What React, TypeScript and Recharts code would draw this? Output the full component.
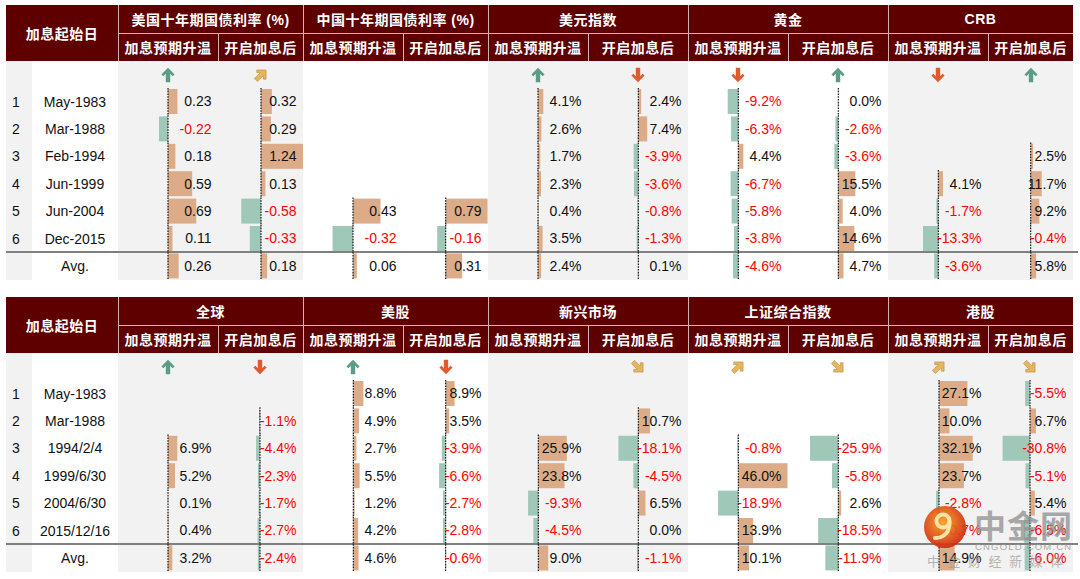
import React from "react";
import { BarChart, Bar, XAxis, YAxis } from "recharts";

// ---- data ----
const rowIds = ["1", "2", "3", "4", "5", "6", ""];
const topDates = ["May-1983", "Mar-1988", "Feb-1994", "Jun-1999", "Jun-2004", "Dec-2015", "Avg."];
const bottomDates = ["May-1983", "Mar-1988", "1994/2/4", "1999/6/30", "2004/6/30", "2015/12/16", "Avg."];
const topGroups = ["美国十年期国债利率 (%)", "中国十年期国债利率 (%)", "美元指数", "黄金", "CRB"];
const bottomGroups = ["全球", "美股", "新兴市场", "上证综合指数", "港股"];
const subHeads = ["加息预期升温", "开启加息后"];
const cornerHead = "加息起始日";

const usBondBefore = [0.23, -0.22, 0.18, 0.59, 0.69, 0.11, 0.26];
const usBondAfter = [0.32, 0.29, 1.24, 0.13, -0.58, -0.33, 0.18];
const cnBondBefore = [null, null, null, null, 0.43, -0.32, 0.06];
const cnBondAfter = [null, null, null, null, 0.79, -0.16, 0.31];
const dxyBefore = [4.1, 2.6, 1.7, 2.3, 0.4, 3.5, 2.4];
const dxyAfter = [2.4, 7.4, -3.9, -3.6, -0.8, -1.3, 0.1];
const goldBefore = [-9.2, -6.3, 4.4, -6.7, -5.8, -3.8, -4.6];
const goldAfter = [0.0, -2.6, -3.6, 15.5, 4.0, 14.6, 4.7];
const crbBefore = [null, null, null, 4.1, -1.7, -13.3, -3.6];
const crbAfter = [null, null, 2.5, 11.7, 9.2, -0.4, 5.8];

const globalBefore = [null, null, 6.9, 5.2, 0.1, 0.4, 3.2];
const globalAfter = [null, -1.1, -4.4, -2.3, -1.7, -2.7, -2.4];
const usStockBefore = [8.8, 4.9, 2.7, 5.5, 1.2, 4.2, 4.6];
const usStockAfter = [8.9, 3.5, -3.9, -6.6, -2.7, -2.8, -0.6];
const emBefore = [null, null, 25.9, 23.8, -9.3, -4.5, 9.0];
const emAfter = [null, 10.7, -18.1, -4.5, 6.5, 0.0, -1.1];
const shBefore = [null, null, -0.8, 46.0, -18.9, 13.9, 10.1];
const shAfter = [null, null, -25.9, -5.8, 2.6, -18.5, -11.9];
const hkBefore = [27.1, 10.0, 32.1, 23.7, -2.8, -0.7, 14.9];
const hkAfter = [-5.5, 6.7, -30.8, -5.1, 5.4, -6.5, -6.0];

const topArrows = ["up", "upRight", null, null, "up", "down", "down", "up", "down", "up"];
const bottomArrows = ["up", "down", "up", "down", null, "downRight", "upRight", "downRight", "upRight", "downRight"];

// ---- layout ----
const FONT = '"Liberation Sans", Arial, "Noto Sans CJK SC", sans-serif';
const HEAD_BG = "#5E0000";
const HEAD_LINE = "#D2B2B2";
const GREY = "#F2F2F2";
const POS = "#DCAB88";
const NEG = "#A0C8B9";
const COL_EDGES = [118, 218, 303, 403, 488, 588, 688, 788, 888, 988, 1073];
const LEFT = 6;
const HEAD_H = 28;
const ARROW_H = 27;
const ROW_H = 27.4;
const BAR_H = 25;

const topZeros = [168, 261, 353, 445.7, 538, 638.3, 738.3, 838.3, 938.3, 1030.7];
const topScales = [41, 34, 64, 53, 1.3, 1.2, 1.15, 1.1, 1.15, 0.94];
const bottomZeros = [168, 260, 353.3, 445.7, 538.3, 638.3, 738.3, 838.3, 939, 1030];
const bottomScales = [1.35, 0.9, 1.15, 1.0, 1.1, 1.1, 1.07, 1.09, 1.05, 0.89];

const ARROW_COLORS: Record<string, string> = {
  up: "#5B9C86",
  down: "#DF5A2E",
  upRight: "#E5B560",
  downRight: "#E5B560",
};
const ARROW_ROT: Record<string, number> = { up: 0, down: 180, upRight: 45, downRight: 135 };

function Arrow({ kind, cx, cy }: { kind: string; cx: number; cy: number }) {
  const diag = kind === "upRight" || kind === "downRight";
  return (
    <svg
      width={18}
      height={18}
      style={{ position: "absolute", left: cx - 9, top: cy - 9, overflow: "visible" }}
    >
      <g transform={`translate(9,9) rotate(${ARROW_ROT[kind]}) scale(1.1)`}>
        <polygon
          points="0,-6.5 6,-0.5 4.2,1.2 2,-1.2 2,6.5 -2,6.5 -2,-1.2 -4.2,1.2 -6,-0.5"
          fill={ARROW_COLORS[kind]}
          stroke={diag ? "#C99440" : "none"}
          strokeWidth={0.6}
        />
      </g>
    </svg>
  );
}

function CellBars({
  values,
  left,
  right,
  zeroX,
  ppu,
  pct,
  top,
}: {
  values: (number | null)[];
  left: number;
  right: number;
  zeroX: number;
  ppu: number;
  pct: boolean;
  top: number;
}) {
  const w = right - left;
  const z = zeroX - left;
  const h = ROW_H * values.length;
  const data = values.map((v, i) => ({ k: "r" + i, v }));
  const fmt = (v: number) => (pct ? v.toFixed(1) + "%" : v.toFixed(2));
  const gap = (ROW_H - BAR_H) / 2;

  const shape = (p: any) => {
    const v = p.payload ? p.payload.v : null;
    if (v == null) return <g />;
    const x0 = v < 0 && p.width > 0 ? p.x + p.width : p.x;
    return (
      <g>
        <rect
          x={Math.min(p.x, p.x + p.width)}
          y={p.y}
          width={Math.abs(p.width)}
          height={p.height}
          fill={v >= 0 ? POS : NEG}
        />
        <line
          x1={x0}
          x2={x0}
          y1={p.y - gap}
          y2={p.y + p.height + gap}
          stroke="#000"
          strokeWidth={1.1}
          strokeDasharray="1.6 1.2"
        />
        <text
          x={w - 6.5}
          y={p.y + p.height / 2}
          textAnchor="end"
          dominantBaseline="central"
          fontFamily={FONT}
          fontSize={14}
          fill={v < 0 ? "#FF0000" : "#111"}
        >
          {fmt(v)}
        </text>
      </g>
    );
  };

  return (
    <div style={{ position: "absolute", left, top, width: w, height: h }}>
      <BarChart
        layout="vertical"
        width={w}
        height={h}
        data={data}
        margin={{ top: 0, right: 0, bottom: 0, left: 0 }}
        barSize={BAR_H}
      >
        <XAxis type="number" hide domain={[-z / ppu, (w - z) / ppu]} allowDataOverflow />
        <YAxis type="category" dataKey="k" hide />
        <Bar dataKey="v" isAnimationActive={false} shape={shape} />
      </BarChart>
    </div>
  );
}

function Table({
  top,
  groups,
  dates,
  series,
  zeros,
  scales,
  pct,
  arrows,
}: {
  top: number;
  groups: string[];
  dates: string[];
  series: (number | null)[][];
  zeros: number[];
  scales: number[];
  pct: boolean[];
  arrows: (string | null)[];
}) {
  const bodyTop = top + HEAD_H * 2;
  const rowsTop = bodyTop + ARROW_H;
  const bodyH = ARROW_H + ROW_H * dates.length;
  const right = COL_EDGES[COL_EDGES.length - 1];
  const headText: React.CSSProperties = {
    position: "absolute",
    display: "flex",
    alignItems: "center",
    justifyContent: "center",
    color: "#fff",
    fontFamily: FONT,
    fontSize: 14,
    fontWeight: 700,
    letterSpacing: 0.5,
    whiteSpace: "nowrap",
  };
  const cellText: React.CSSProperties = {
    position: "absolute",
    display: "flex",
    alignItems: "center",
    justifyContent: "center",
    color: "#111",
    fontFamily: FONT,
    fontSize: 14,
    height: ROW_H,
  };

  return (
    <>
      {/* body backgrounds */}
      <div style={{ position: "absolute", left: LEFT, top: bodyTop, width: 32 - LEFT, height: bodyH, background: GREY }} />
      {groups.map((g, i) =>
        i % 2 === 0 ? (
          <div
            key={"bg" + i}
            style={{
              position: "absolute",
              left: COL_EDGES[i * 2],
              top: bodyTop,
              width: COL_EDGES[i * 2 + 2] - COL_EDGES[i * 2],
              height: bodyH,
              background: GREY,
            }}
          />
        ) : null
      )}
      {/* header */}
      <div style={{ position: "absolute", left: LEFT, top, width: right - LEFT, height: HEAD_H * 2, background: HEAD_BG }} />
      <div style={{ ...headText, left: LEFT, top, width: COL_EDGES[0] - LEFT, height: HEAD_H * 2 }}>{cornerHead}</div>
      <div style={{ position: "absolute", left: COL_EDGES[0], top: top + HEAD_H, width: right - COL_EDGES[0], height: 1, background: HEAD_LINE }} />
      {COL_EDGES.slice(0, -1).map((x, i) => (
        <div
          key={"vl" + i}
          style={{
            position: "absolute",
            left: x,
            top: i % 2 === 0 ? top : top + HEAD_H,
            width: 1,
            height: i % 2 === 0 ? HEAD_H * 2 : HEAD_H,
            background: HEAD_LINE,
          }}
        />
      ))}
      {groups.map((g, i) => (
        <div
          key={"g" + i}
          style={{ ...headText, left: COL_EDGES[i * 2], top, width: COL_EDGES[i * 2 + 2] - COL_EDGES[i * 2], height: HEAD_H }}
        >
          {g}
        </div>
      ))}
      {COL_EDGES.slice(0, -1).map((x, i) => (
        <div
          key={"s" + i}
          style={{ ...headText, left: x, top: top + HEAD_H, width: COL_EDGES[i + 1] - x, height: HEAD_H }}
        >
          {subHeads[i % 2]}
        </div>
      ))}
      {/* row labels */}
      {dates.map((d, i) => (
        <React.Fragment key={"r" + i}>
          <div style={{ ...cellText, left: LEFT, width: 32 - LEFT - 6, top: rowsTop + i * ROW_H }}>{rowIds[i]}</div>
          <div style={{ ...cellText, left: 32, width: COL_EDGES[0] - 32, top: rowsTop + i * ROW_H }}>{d}</div>
        </React.Fragment>
      ))}
      {/* average separator */}
      <div
        style={{
          position: "absolute",
          left: LEFT,
          top: rowsTop + ROW_H * (dates.length - 1) - 1,
          width: 1078 - LEFT,
          height: 2,
          background: "#808080",
        }}
      />
      {/* bars */}
      {series.map((vals, i) => (
        <CellBars
          key={"c" + i}
          values={vals}
          left={COL_EDGES[i]}
          right={COL_EDGES[i + 1]}
          zeroX={zeros[i]}
          ppu={scales[i]}
          pct={pct[i]}
          top={rowsTop}
        />
      ))}
      {/* trend arrows */}
      {arrows.map((a, i) =>
        a ? <Arrow key={"a" + i} kind={a} cx={zeros[i]} cy={bodyTop + ARROW_H / 2 + 0.5} /> : null
      )}
    </>
  );
}

function Watermark() {
  return (
    <svg
      width={1080}
      height={579}
      style={{ position: "absolute", left: 0, top: 0, pointerEvents: "none" }}
    >
      <defs>
        <radialGradient id="wm" cx="45%" cy="40%" r="60%">
          <stop offset="0%" stopColor="#F7A21E" />
          <stop offset="100%" stopColor="#D3260F" />
        </radialGradient>
      </defs>
      <g opacity={0.92}>
        <circle cx={945} cy={527} r={21} fill="url(#wm)" />
        <circle cx={943} cy={521} r={6.5} fill="none" stroke="#FBE3A0" strokeWidth={4} />
        <path d="M949.5 522 C 950 532, 944 538, 935 538" fill="none" stroke="#FBE3A0" strokeWidth={4} strokeLinecap="round" />
      </g>
      <text x={974} y={538} fontFamily={FONT} fontSize={32} fontWeight={700} fill="#8E8E8E" opacity={0.75} letterSpacing={1}>
        中金网
      </text>
      <text x={975} y={550} fontFamily={FONT} fontSize={9.5} fill="#9A9A9A" opacity={0.8} letterSpacing={1.2}>
        CNGOLD.COM.CN
      </text>
      <text x={927} y={566} fontFamily={FONT} fontSize={13} fill="#9A9A9A" opacity={0.7} letterSpacing={7.5}>
        中金财经新媒体
      </text>
    </svg>
  );
}

export default function App() {
  const topSeries = [usBondBefore, usBondAfter, cnBondBefore, cnBondAfter, dxyBefore, dxyAfter, goldBefore, goldAfter, crbBefore, crbAfter];
  const bottomSeries = [globalBefore, globalAfter, usStockBefore, usStockAfter, emBefore, emAfter, shBefore, shAfter, hkBefore, hkAfter];
  const topPct = [false, false, false, false, true, true, true, true, true, true];
  const bottomPct = bottomSeries.map(() => true);

  return (
    <div style={{ position: "absolute", left: 0, top: 0, width: 1080, height: 579, background: "#fff", overflow: "hidden" }}>
      <Table
        top={5}
        groups={topGroups}
        dates={topDates}
        series={topSeries}
        zeros={topZeros}
        scales={topScales}
        pct={topPct}
        arrows={topArrows}
      />
      <Table
        top={297}
        groups={bottomGroups}
        dates={bottomDates}
        series={bottomSeries}
        zeros={bottomZeros}
        scales={bottomScales}
        pct={bottomPct}
        arrows={bottomArrows}
      />
      <Watermark />
    </div>
  );
}
